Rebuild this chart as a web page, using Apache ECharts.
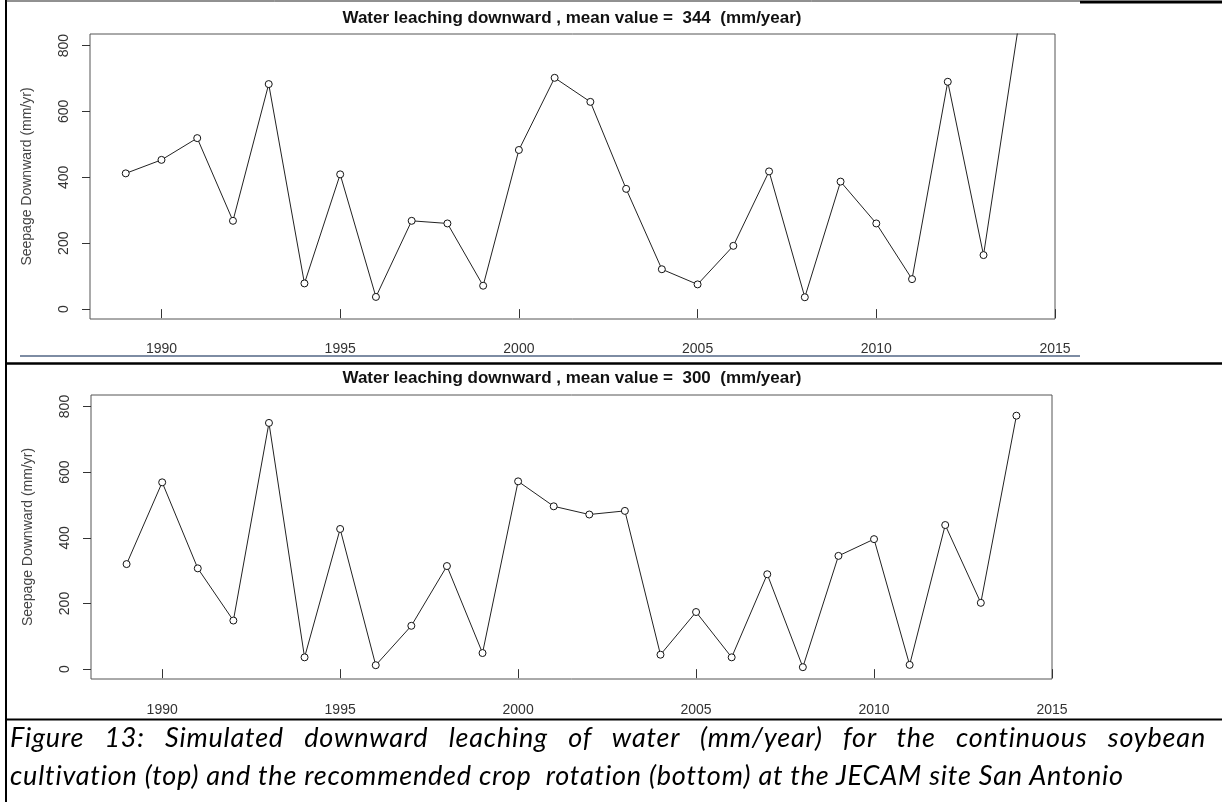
<!DOCTYPE html>
<html>
<head>
<meta charset="utf-8">
<title>Water leaching downward</title>
<script src="https://cdn.jsdelivr.net/npm/echarts@6.0.0/dist/echarts.min.js"></script>
<style>
    body { margin: 0; background: #fff; }
    #main { position: absolute; left: 0; top: 0; width: 1222px; height: 802px; }
    .cap {
        position: absolute; left: 10px; width: 1196px;
        font-family: Lato, "Open Sans", sans-serif; font-style: italic;
        font-size: 27px; letter-spacing: 0.8px; line-height: 38px; color: #000;
    }
    #cap1 { top: 718px; text-align: justify; text-align-last: justify; }
    #cap2 { top: 756px; }
</style>
</head>
<body>
<div id="main"></div>
<div class="cap" id="cap1">Figure 13: Simulated downward leaching of water (mm/year) for the continuous soybean</div>
<div class="cap" id="cap2">cultivation (top) and the recommended crop&nbsp; rotation (bottom) at the JECAM site San Antonio</div>

<script>
    // data
    var years = [1989, 1990, 1991, 1992, 1993, 1994, 1995, 1996, 1997, 1998, 1999, 2000, 2001,
                 2002, 2003, 2004, 2005, 2006, 2007, 2008, 2009, 2010, 2011, 2012, 2013, 2014];
    // continuous soybean (top), last year runs off the plot
    var soybeanSeepage = [412, 453, 519, 268, 683, 78, 409, 37, 268, 260, 71, 483, 702,
                          629, 365, 121, 75, 192, 418, 36, 387, 260, 91, 690, 164, 875];
    // recommended rotation (bottom)
    var rotationSeepage = [320, 569, 307, 148, 750, 36, 427, 12, 132, 314, 49, 572, 496,
                           471, 482, 44, 174, 36, 289, 6, 345, 396, 13, 439, 202, 772];
    var xTicks = [1990, 1995, 2000, 2005, 2010, 2015];
    var yTicks = [0, 200, 400, 600, 800];
    var titles = [
        'Water leaching downward , mean value =  344  (mm/year)',
        'Water leaching downward , mean value =  300  (mm/year)'
    ];

    var chart = echarts.init(document.getElementById('main'));

    function pairs(vals) {
        return years.map(function (y, i) { return [y, vals[i]]; });
    }

    function xAxisFor(idx, margin) {
        return {
            type: 'value', gridIndex: idx, min: 1988, max: 2015,
            axisLine: { show: false },
            axisTick: { show: true, length: 9, customValues: xTicks, lineStyle: { color: '#333' } },
            axisLabel: { customValues: xTicks, margin: margin, color: '#333', fontSize: 14,
                         fontFamily: 'Liberation Sans',
                         formatter: function (v) { return String(v); } },
            splitLine: { show: false }
        };
    }

    function yAxisFor(idx) {
        return {
            type: 'value', gridIndex: idx, min: -30, max: 835,
            name: 'Seepage Downward (mm/yr)', nameLocation: 'middle', nameGap: 56, nameRotate: 90,
            nameTextStyle: { color: '#444', fontSize: 14, fontFamily: 'Liberation Sans' },
            axisLine: { show: false },
            axisTick: { show: true, length: 8, customValues: yTicks, lineStyle: { color: '#333' } },
            axisLabel: { customValues: yTicks, rotate: 90, margin: 19, color: '#333', fontSize: 14,
                         fontFamily: 'Liberation Sans' },
            splitLine: { show: false }
        };
    }

    function seriesFor(idx, vals) {
        return {
            type: 'line', xAxisIndex: idx, yAxisIndex: idx,
            data: pairs(vals),
            clip: true,
            symbol: 'circle', symbolSize: 7,
            lineStyle: { color: '#222', width: 1 },
            itemStyle: { color: '#fff', borderColor: '#111', borderWidth: 1 }
        };
    }

    function titleText(text, y) {
        return {
            type: 'text', x: 572, y: y,
            style: { text: text, align: 'center', verticalAlign: 'middle', fill: '#111',
                     font: 'bold 17px "Liberation Sans"' }
        };
    }

    function hline(x1, x2, y, w, color) {
        return { type: 'line', shape: { x1: x1, y1: y, x2: x2, y2: y },
                 style: { stroke: color || '#000', lineWidth: w } };
    }

    chart.setOption({
        animation: false,
        grid: [
            { left: 90, top: 34, width: 965, height: 285, show: true, borderColor: '#555', borderWidth: 1 },
            { left: 91, top: 395, width: 961, height: 284, show: true, borderColor: '#555', borderWidth: 1 }
        ],
        xAxis: [xAxisFor(0, 23), xAxisFor(1, 24)],
        yAxis: [yAxisFor(0), yAxisFor(1)],
        series: [seriesFor(0, soybeanSeepage), seriesFor(1, rotationSeepage)],
        graphic: [
            titleText(titles[0], 18),
            titleText(titles[1], 378),
            // table frame
            { type: 'line', shape: { x1: 6, y1: 0, x2: 6, y2: 802 }, style: { stroke: '#000', lineWidth: 2 } },
            hline(6, 1080, 1, 1, '#222'),
            hline(1080, 1222, 2, 3),
            hline(20, 1080, 356, 2, '#7d8ca3'),
            hline(6, 1222, 363.5, 2.5),
            hline(6, 1222, 719.5, 2)
        ]
    });
</script>
</body>
</html>
